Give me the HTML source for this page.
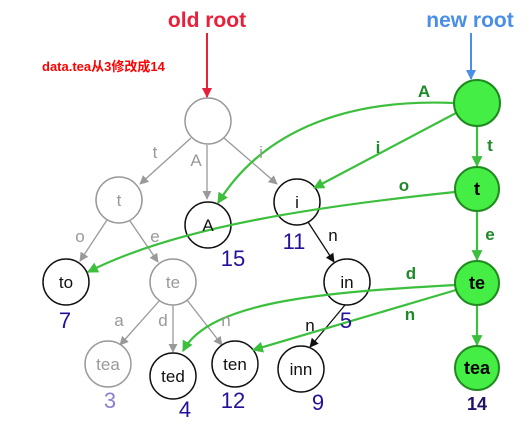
<!DOCTYPE html>
<html><head><meta charset="utf-8"><style>
html,body{margin:0;padding:0;background:#fff;}
svg{display:block;font-family:"Liberation Sans","Noto Sans CJK SC",sans-serif;}
</style></head><body>
<svg width="530" height="431" viewBox="0 0 530 431">
<defs>
<marker id="ag" viewBox="0 0 10 10" refX="9" refY="5" markerWidth="7" markerHeight="7" orient="auto"><path d="M0,0L10,5L0,10z" fill="#999"/></marker>
<marker id="ab" viewBox="0 0 10 10" refX="9" refY="5" markerWidth="7" markerHeight="7" orient="auto"><path d="M0,0L10,5L0,10z" fill="#111"/></marker>
<marker id="agr" viewBox="0 0 10 10" refX="9" refY="5" markerWidth="5" markerHeight="5" orient="auto"><path d="M0,0L10,5L0,10z" fill="#3cbf3c"/></marker>
<marker id="ar" viewBox="0 0 10 10" refX="9" refY="5" markerWidth="5" markerHeight="5" orient="auto"><path d="M0,0L10,5L0,10z" fill="#e8203a"/></marker>
<marker id="abl" viewBox="0 0 10 10" refX="9" refY="5" markerWidth="5" markerHeight="5" orient="auto"><path d="M0,0L10,5L0,10z" fill="#4a8ee8"/></marker>
</defs>
<text x="207" y="27" text-anchor="middle" font-size="21" font-weight="bold" fill="#e8203a">old root</text>
<text x="470" y="27" text-anchor="middle" font-size="21" font-weight="bold" fill="#4a8ee8">new root</text>
<text x="42" y="71" font-size="13" font-weight="bold" fill="#ff0000">data.tea从3修改成14</text>
<line x1="207" y1="33" x2="207" y2="97" stroke="#e8203a" stroke-width="2" marker-end="url(#ar)"/>
<line x1="471" y1="33" x2="471" y2="79" stroke="#4a8ee8" stroke-width="2" marker-end="url(#abl)"/>
<g stroke="#999" stroke-width="1.3" fill="none" marker-end="url(#ag)">
<line x1="191" y1="138" x2="140" y2="184"/>
<line x1="207" y1="145" x2="207" y2="199"/>
<line x1="224" y1="138" x2="277" y2="184"/>
<line x1="107" y1="220" x2="80" y2="261"/>
<line x1="130" y1="221" x2="158" y2="262"/>
<line x1="160" y1="300" x2="120" y2="345"/>
<line x1="173" y1="305" x2="173" y2="352"/>
<line x1="187" y1="300" x2="222" y2="345"/>
</g>
<g stroke="#111" stroke-width="1.3" fill="none" marker-end="url(#ab)">
<line x1="308" y1="222" x2="334" y2="262"/>
<line x1="345" y1="305" x2="310" y2="347"/>
</g>
<g fill="#fff" stroke="#999" stroke-width="1.5">
<circle cx="208" cy="121" r="23"/><circle cx="119" cy="200" r="23"/><circle cx="173" cy="282" r="23"/><circle cx="108" cy="364" r="23"/>
</g>
<g fill="#fff" stroke="#111" stroke-width="1.5">
<circle cx="208" cy="225" r="23"/><circle cx="297" cy="202" r="23"/><circle cx="66" cy="282" r="23"/><circle cx="347" cy="282" r="23"/>
<circle cx="173" cy="376" r="23"/><circle cx="235" cy="364" r="23"/><circle cx="301" cy="369" r="23"/>
</g>
<g stroke="#3cbf3c" stroke-width="2.2" fill="none" marker-end="url(#agr)">
<path d="M454,103 C340,98 260,135 218,203"/>
<line x1="456" y1="113" x2="314" y2="188"/>
<line x1="477" y1="126" x2="477" y2="166"/>
<path d="M455,192 C330,205 180,225 88,272"/>
<line x1="477" y1="212" x2="477" y2="260"/>
<path d="M455,285 C330,292 210,300 183,351"/>
<line x1="456" y1="290" x2="253" y2="350"/>
<line x1="477" y1="306" x2="477" y2="345"/>
</g>
<g fill="#44ee44" stroke="#1f8a1f" stroke-width="2">
<circle cx="477" cy="103" r="23"/><circle cx="477" cy="189" r="22"/><circle cx="477" cy="283" r="22"/><circle cx="477" cy="368" r="22"/>
</g>
<g font-size="17" text-anchor="middle" fill="#999">
<text x="119" y="206">t</text><text x="173" y="288">te</text><text x="108" y="370">tea</text>
<text x="155" y="158">t</text><text x="196" y="166">A</text><text x="261" y="158">i</text>
<text x="80" y="242">o</text><text x="155" y="242">e</text><text x="119" y="326">a</text><text x="163" y="326">d</text><text x="226" y="326">n</text>
</g>
<g font-size="17" text-anchor="middle" fill="#111">
<text x="208" y="231">A</text><text x="297" y="208">i</text><text x="66" y="288">to</text><text x="347" y="288">in</text>
<text x="173" y="382">ted</text><text x="235" y="370">ten</text><text x="301" y="375">inn</text>
<text x="333" y="241">n</text><text x="310" y="331">n</text>
</g>
<g font-size="18" font-weight="bold" text-anchor="middle" fill="#000">
<text x="477" y="195">t</text><text x="477" y="289">te</text><text x="477" y="374">tea</text>
</g>
<g font-size="17" font-weight="bold" text-anchor="middle" fill="#1f8a2a">
<text x="424" y="97">A</text><text x="378" y="153">i</text><text x="490" y="151">t</text><text x="404" y="191">o</text>
<text x="490" y="240">e</text><text x="411" y="279">d</text><text x="410" y="320">n</text>
</g>
<g font-size="22" text-anchor="middle" fill="#22119a">
<text x="233" y="266">15</text><text x="294" y="249">11</text><text x="65" y="328">7</text><text x="346" y="328">5</text>
<text x="185" y="417">4</text><text x="233" y="408">12</text><text x="318" y="410">9</text>
<text x="110" y="408" fill="#8a80d0">3</text>
</g>
<text x="477" y="410" text-anchor="middle" font-size="18" font-weight="bold" fill="#22116a">14</text>
</svg>
</body></html>
